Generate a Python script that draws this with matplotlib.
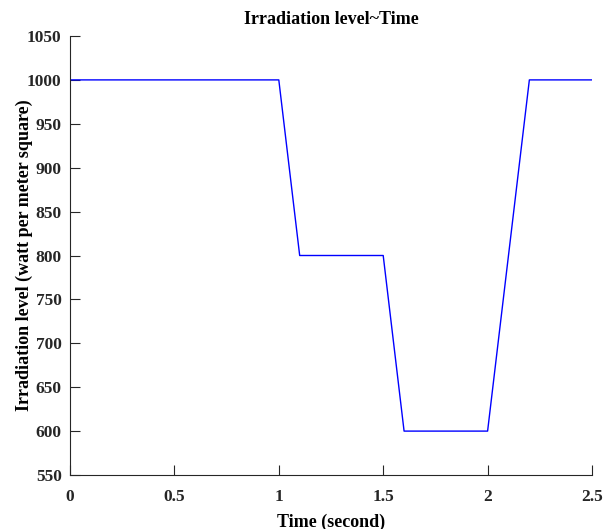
import matplotlib
matplotlib.use("Agg")
import matplotlib.pyplot as plt

# irradiation profile (time in s, level in W/m^2)
time_s = [0, 1.0, 1.1, 1.5, 1.6, 2.0, 2.2, 2.5]
irradiation = [1000, 1000, 800, 800, 600, 600, 1000, 1000]

xticks = [0, 0.5, 1, 1.5, 2, 2.5]
xtick_labels = ["0", "0.5", "1", "1.5", "2", "2.5"]
yticks = [550, 600, 650, 700, 750, 800, 850, 900, 950, 1000, 1050]

plt.rcParams['font.family'] = ['Liberation Serif', 'DejaVu Serif']
plt.rcParams['font.weight'] = 'bold'

fig = plt.figure(figsize=(6.11, 5.29), dpi=100)
ax = fig.add_axes([70 / 611, 54 / 529, 522 / 611, 439 / 529])

ax.plot(time_s, irradiation, color='#0000FF', linewidth=1.0)

ax.set_xlim(0, 2.5)
ax.set_ylim(550, 1050)
ax.set_xticks(xticks)
ax.set_xticklabels(xtick_labels)
ax.set_yticks(yticks)

ax.spines['top'].set_visible(False)
ax.spines['right'].set_visible(False)
for s in ('left', 'bottom'):
    ax.spines[s].set_linewidth(0.8)
    ax.spines[s].set_color('#262626')

ax.tick_params(direction='in', length=7, width=0.8, colors='#262626',
               labelsize=12.5)
ax.tick_params(axis='x', pad=10)
ax.tick_params(axis='y', pad=6)
for lbl in ax.get_xticklabels() + ax.get_yticklabels():
    lbl.set_fontweight('bold')

ax.set_title("Irradiation level~Time", fontsize=13, fontweight='bold', pad=9)
ax.set_xlabel("Time (second)", fontsize=13, fontweight='bold', labelpad=6)
ax.set_ylabel("Irradiation level (watt per meter square)", fontsize=13,
              fontweight='bold', labelpad=-4)

fig.savefig("out.png", dpi=100)
